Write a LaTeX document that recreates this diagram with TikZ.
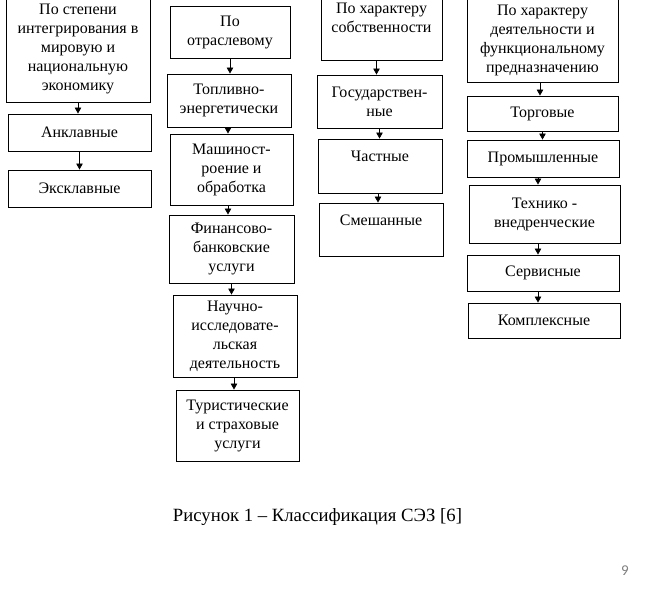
\documentclass[tikz,border=0pt]{standalone}
\usepackage{fontspec}
\setmainfont{Liberation Serif}
\newfontfamily\pagefont{Carlito}
\usetikzlibrary{arrows.meta}
\definecolor{pageGray}{RGB}{128,128,128}
\tikzset{
  klass/.style={draw, line width=0.9pt, align=center, inner sep=3pt,
    font=\fontsize{16}{19}\selectfont},
  arr/.style={-{Triangle[width=6.5pt,length=6pt]}, line width=0.8pt}
}

\begin{document}
\begin{tikzpicture}[x=1pt, y=-1pt]
\clip (0,0) rectangle (657,594);
\fill[white] (0,0) rectangle (657,594);

% column 1
\node[klass, minimum width=144, minimum height=106] (hdrA) at (78,49)
  {По степени\\интегрирования в\\мировую и\\национальную\\экономику};
\node[klass, minimum width=143, minimum height=37] (ankl) at (79.5,132.5) {Анклавные};
\node[klass, minimum width=143, minimum height=37] (exkl) at (79.5,188.5) {Эксклавные};
\draw[arr] (hdrA.south) -- (hdrA.south |- ankl.north);
\draw[arr] (ankl.south) -- (ankl.south |- exkl.north);

% column 2
\node[klass, minimum width=120, minimum height=52] (hdrB) at (230,32) {По\\отраслевому};
\node[klass, minimum width=124, minimum height=53] (topl) at (229,100.5) {Топливно-\\энергетически};
\node[klass, minimum width=123, minimum height=71] (mash) at (231.5,169.5) {Машиност-\\роение и\\обработка};
\node[klass, minimum width=125, minimum height=68] (fin) at (231.5,249) {Финансово-\\банковские\\услуги};
\node[klass, minimum width=124, minimum height=82] (nauch) at (235,336) {Научно-\\исследовате-\\льская\\деятельность};
\node[klass, minimum width=123, minimum height=71] (tur) at (237.5,425.5) {Туристические\\и страховые\\услуги};
\draw[arr] (hdrB.south) -- (hdrB.south |- topl.north);
\draw[arr] ([xshift=-1pt]topl.south) -- ([xshift=-1pt]topl.south |- mash.north);
\draw[arr] ([xshift=-3.5pt]mash.south) -- ([xshift=-3.5pt]mash.south |- fin.north);
\draw[arr] (fin.south) -- (fin.south |- nauch.north);
\draw[arr] ([xshift=-1pt]nauch.south) -- ([xshift=-1pt]nauch.south |- tur.north);

% column 3
\node[klass, minimum width=121, minimum height=66] (hdrC) at (381.5,27) {По характеру\\собственности\\~};
\node[klass, minimum width=125, minimum height=53] (gos) at (379.5,101.5) {Государствен-\\ные};
\node[klass, minimum width=124, minimum height=54] (chast) at (380,166) {Частные\\~};
\node[klass, minimum width=124, minimum height=53] (smesh) at (381,229.5) {Смешанные\\~};
\draw[arr] ([xshift=-5pt]hdrC.south) -- ([xshift=-5pt]hdrC.south |- gos.north);
\draw[arr] (gos.south) -- (gos.south |- chast.north);
\draw[arr] ([xshift=-2pt]chast.south) -- ([xshift=-2pt]chast.south |- smesh.north);

% column 4
\node[klass, minimum width=151, minimum height=84] (hdrD) at (542.5,40)
  {По характеру\\деятельности и\\функциональному\\предназначению};
\node[klass, minimum width=151, minimum height=35] (torg) at (542.5,113.5) {Торговые};
\node[klass, minimum width=152, minimum height=37] (prom) at (543,158.5) {Промышленные};
\node[klass, minimum width=151, minimum height=58] (tech) at (544.5,214) {Технико -\\внедренческие};
\node[klass, minimum width=152, minimum height=36] (serv) at (543,273) {Сервисные};
\node[klass, minimum width=152, minimum height=35] (kompl) at (544,320.5) {Комплексные};
\draw[arr] ([xshift=-2.5pt]hdrD.south) -- ([xshift=-2.5pt]hdrD.south |- torg.north);
\draw[arr] (torg.south) -- (torg.south |- prom.north);
\draw[arr] ([xshift=-5pt]prom.south) -- ([xshift=-5pt]prom.south |- tech.north);
\draw[arr] ([xshift=-6.5pt]tech.south) -- ([xshift=-6.5pt]tech.south |- serv.north);
\draw[arr] ([xshift=-5pt]serv.south) -- ([xshift=-5pt]serv.south |- kompl.north);

% caption and page number
\node[font=\fontsize{18.7}{22}\selectfont] (cap) at (317.5,517) {Рисунок 1 – Классификация СЭЗ [6]};
\node[font=\pagefont\fontsize{15}{17}\selectfont, text=pageGray] (pnum) at (625,571) {9};
\end{tikzpicture}
\end{document}
